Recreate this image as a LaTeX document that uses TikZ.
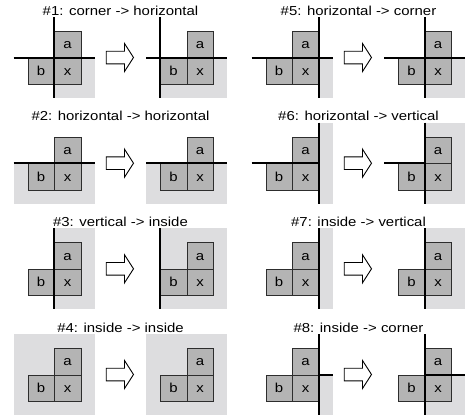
\documentclass[tikz,border=0pt]{standalone}
\usepackage{fontspec}
\setmainfont{Liberation Sans}[FakeStretch=1.15]
\definecolor{regionfill}{RGB}{221,221,223}
\definecolor{cellfill}{RGB}{180,180,180}
\definecolor{cellline}{RGB}{45,45,45}
\tikzset{
  cellbox/.style={draw=cellline, fill=cellfill, line width=0.75pt,
    minimum width=26.5pt, minimum height=26.5pt, inner sep=0pt,
    text height=8.5pt, text depth=0pt, anchor=north west,
    font=\fontsize{13}{15}\selectfont},
  region/.style={fill=regionfill},
  border/.style={line width=2pt, black},
  caption/.style={anchor=base, inner sep=0pt, font=\fontsize{13}{15}\selectfont},
  hollowarrow/.style={draw=black, fill=white, line width=0.9pt, line join=miter},
}
% the three cells a, b, x of one configuration (origin = top-left of b column / a row)
\newcommand\cellgroup[1]{%
  \node[cellbox] (#1a) at (26.5,0) {a};
  \node[cellbox] (#1b) at (0,26.5) {b};
  \node[cellbox] (#1x) at (26.5,26.5) {x};}
% hollow block arrow between the two configurations
\newcommand\steparrow{%
  \draw[hollowarrow] (78.7,20.2) -- (97,20.2) -- (97,12.5) -- (106,26.5)
    -- (97,40.5) -- (97,32.8) -- (78.7,32.8) -- cycle;}
\begin{document}
\begin{tikzpicture}[x=1pt, y=-1pt]
\useasboundingbox (0,0) rectangle (465,418);

% ---------- #1 ----------
\node[caption] (t1) at (120.5,15) {\#1: corner -> horizontal};
\begin{scope}[shift={(27.5,31)}]
  \fill[region] (26.5,26.5) rectangle (67,67);
  \cellgroup{p1l}
  \draw[border] (26.5,-14) -- (26.5,67);
  \draw[border] (-14,26.5) -- (67,26.5);
  \steparrow
  \begin{scope}[shift={(132.5,0)}]
    \fill[region] (0,26.5) rectangle (67,67);
    \cellgroup{p1r}
    \draw[border] (0,-14) -- (0,67);
    \draw[border] (-14,26.5) -- (67,26.5);
  \end{scope}
\end{scope}

% ---------- #2 ----------
\node[caption] (t2) at (120.5,120.7) {\#2: horizontal -> horizontal};
\begin{scope}[shift={(27.5,136.7)}]
  \fill[region] (-14,26.5) rectangle (67,67);
  \cellgroup{p2l}
  \draw[border] (-14,26.5) -- (67,26.5);
  \steparrow
  \begin{scope}[shift={(132.5,0)}]
    \fill[region] (-14,26.5) rectangle (67,67);
    \cellgroup{p2r}
    \draw[border] (-14,26.5) -- (67,26.5);
  \end{scope}
\end{scope}

% ---------- #3 ----------
\node[caption] (t3) at (120.5,226.3) {\#3: vertical -> inside};
\begin{scope}[shift={(27.5,242.3)}]
  \fill[region] (26.5,-14) rectangle (67,67);
  \cellgroup{p3l}
  \draw[border] (26.5,-14) -- (26.5,67);
  \steparrow
  \begin{scope}[shift={(132.5,0)}]
    \fill[region] (0,-14) rectangle (67,67);
    \cellgroup{p3r}
    \draw[border] (0,-14) -- (0,67);
  \end{scope}
\end{scope}

% ---------- #4 ----------
\node[caption] (t4) at (120.5,332) {\#4: inside -> inside};
\begin{scope}[shift={(27.5,348)}]
  \fill[region] (-14,-14) rectangle (67,67);
  \cellgroup{p4l}
  \steparrow
  \begin{scope}[shift={(132.5,0)}]
    \fill[region] (-14,-14) rectangle (67,67);
    \cellgroup{p4r}
  \end{scope}
\end{scope}

% ---------- #5 ----------
\node[caption] (t5) at (358.5,15) {\#5: horizontal -> corner};
\begin{scope}[shift={(265.5,31)}]
  \fill[region] (53,26.5) rectangle (67,67);
  \cellgroup{p5l}
  \draw[border] (53,-14) -- (53,67);
  \draw[border] (-14,26.5) -- (67,26.5);
  \steparrow
  \begin{scope}[shift={(132.5,0)}]
    \fill[region] (26.5,26.5) rectangle (67,67);
    \cellgroup{p5r}
    \draw[border] (26.5,-14) -- (26.5,67);
    \draw[border] (-14,26.5) -- (67,26.5);
  \end{scope}
\end{scope}

% ---------- #6 ----------
\node[caption] (t6) at (358.5,120.7) {\#6: horizontal -> vertical};
\begin{scope}[shift={(265.5,136.7)}]
  \fill[region] (53,-14) rectangle (67,67);
  \cellgroup{p6l}
  \draw[border] (53,-14) -- (53,67);
  \draw[border] (-14,26.5) -- (53,26.5);
  \steparrow
  \begin{scope}[shift={(132.5,0)}]
    \fill[region] (26.5,-14) rectangle (67,67);
    \cellgroup{p6r}
    \draw[border] (26.5,-14) -- (26.5,67);
    \draw[border] (-14,26.5) -- (26.5,26.5);
  \end{scope}
\end{scope}

% ---------- #7 ----------
\node[caption] (t7) at (358.5,226.3) {\#7: inside -> vertical};
\begin{scope}[shift={(265.5,242.3)}]
  \fill[region] (53,-14) rectangle (67,67);
  \cellgroup{p7l}
  \draw[border] (53,-14) -- (53,67);
  \steparrow
  \begin{scope}[shift={(132.5,0)}]
    \fill[region] (26.5,-14) rectangle (67,67);
    \cellgroup{p7r}
    \draw[border] (26.5,-14) -- (26.5,67);
  \end{scope}
\end{scope}

% ---------- #8 ----------
\node[caption] (t8) at (358.5,332) {\#8: inside -> corner};
\begin{scope}[shift={(265.5,348)}]
  \fill[region] (53,26.5) rectangle (67,67);
  \cellgroup{p8l}
  \draw[border] (53,-14) -- (53,67);
  \draw[border] (53,26.5) -- (67,26.5);
  \steparrow
  \begin{scope}[shift={(132.5,0)}]
    \fill[region] (26.5,26.5) rectangle (67,67);
    \cellgroup{p8r}
    \draw[border] (26.5,-14) -- (26.5,67);
    \draw[border] (26.5,26.5) -- (67,26.5);
  \end{scope}
\end{scope}
\end{tikzpicture}
\end{document}
